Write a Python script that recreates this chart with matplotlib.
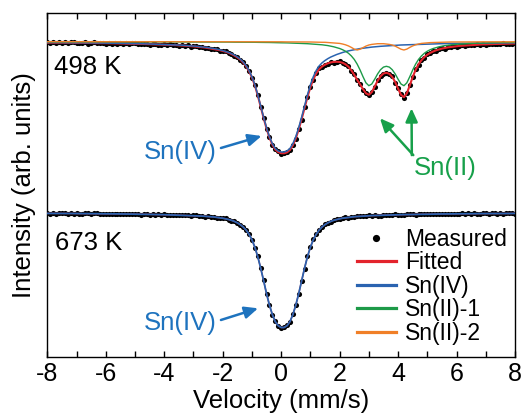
import numpy as np
import matplotlib
matplotlib.use("Agg")
import matplotlib.pyplot as plt
from matplotlib.ticker import MultipleLocator

plt.rcParams["font.family"] = ["Liberation Sans", "DejaVu Sans"]
plt.rcParams["axes.unicode_minus"] = False

# velocity channels (mm/s), -8 ... 8 in 0.1 steps
velocity = np.linspace(-8.0, 8.0, 161)

# ---- 498 K, relative transmission (%) ----
measured_498 = [
    99.95, 99.86, 99.92, 99.83, 99.96, 99.88, 99.93, 99.84, 99.92, 99.95,
    99.82, 99.89, 99.85, 99.92, 99.79, 99.89, 99.92, 99.82, 99.84, 99.89,
    99.80, 99.89, 99.80, 99.86, 99.76, 99.88, 99.80, 99.84, 99.75, 99.82,
    99.86, 99.72, 99.79, 99.74, 99.81, 99.67, 99.76, 99.79, 99.69, 99.70,
    99.75, 99.65, 99.73, 99.63, 99.68, 99.56, 99.68, 99.59, 99.62, 99.51,
    99.56, 99.57, 99.42, 99.45, 99.38, 99.41, 99.24, 99.29, 99.27, 99.11,
    99.05, 99.03, 98.84, 98.81, 98.57, 98.45, 98.14, 97.98, 97.53, 97.10,
    96.38, 95.66, 94.69, 93.43, 92.38, 91.28, 90.46, 89.62, 89.23, 89.02,
    88.81, 88.82, 88.97, 89.12, 89.69, 90.29, 91.24, 92.18, 93.42, 94.46,
    95.49, 96.18, 96.86, 97.32, 97.46, 97.71, 97.81, 97.98, 97.90, 98.01,
    98.03, 97.85, 97.72, 97.55, 97.09, 96.74, 96.15, 95.74, 95.19, 94.90,
    94.68, 95.00, 95.46, 96.12, 96.61, 96.76, 96.90, 96.76, 96.53, 95.90,
    95.33, 94.75, 94.41, 94.82, 95.67, 96.42, 97.23, 97.70, 98.17, 98.40,
    98.76, 98.87, 99.06, 99.09, 99.26, 99.38, 99.31, 99.44, 99.44, 99.56,
    99.47, 99.60, 99.66, 99.58, 99.63, 99.71, 99.63, 99.75, 99.67, 99.75,
    99.66, 99.81, 99.74, 99.81, 99.72, 99.81, 99.86, 99.74, 99.81, 99.78,
    99.87,
]
fitted_498 = [
    99.90, 99.90, 99.90, 99.90, 99.90, 99.89, 99.89, 99.89, 99.89, 99.88,
    99.88, 99.88, 99.88, 99.87, 99.87, 99.87, 99.86, 99.86, 99.86, 99.85,
    99.85, 99.84, 99.84, 99.84, 99.83, 99.82, 99.81, 99.80, 99.80, 99.79,
    99.79, 99.78, 99.78, 99.77, 99.76, 99.75, 99.74, 99.73, 99.73, 99.72,
    99.71, 99.70, 99.68, 99.67, 99.66, 99.63, 99.62, 99.60, 99.58, 99.56,
    99.53, 99.50, 99.48, 99.44, 99.41, 99.36, 99.32, 99.27, 99.21, 99.15,
    99.07, 98.99, 98.89, 98.76, 98.61, 98.43, 98.21, 97.92, 97.54, 97.06,
    96.43, 95.63, 94.62, 93.49, 92.37, 91.31, 90.41, 89.70, 89.21, 88.96,
    88.85, 88.84, 88.93, 89.17, 89.64, 90.33, 91.22, 92.25, 93.36, 94.47,
    95.45, 96.23, 96.83, 97.25, 97.52, 97.70, 97.84, 97.93, 97.98, 97.99,
    97.97, 97.89, 97.74, 97.51, 97.14, 96.69, 96.19, 95.72, 95.26, 94.84,
    94.69, 94.96, 95.51, 96.09, 96.54, 96.82, 96.89, 96.79, 96.48, 95.98,
    95.31, 94.69, 94.45, 94.84, 95.63, 96.47, 97.18, 97.74, 98.15, 98.47,
    98.70, 98.88, 99.02, 99.14, 99.23, 99.31, 99.37, 99.43, 99.47, 99.51,
    99.55, 99.58, 99.60, 99.62, 99.65, 99.67, 99.68, 99.70, 99.71, 99.73,
    99.73, 99.75, 99.75, 99.77, 99.77, 99.78, 99.79, 99.80, 99.80, 99.81,
    99.82,
]
sn4_498 = [
    99.92, 99.92, 99.91, 99.91, 99.91, 99.90, 99.90, 99.90, 99.90, 99.89,
    99.89, 99.89, 99.89, 99.88, 99.88, 99.88, 99.87, 99.87, 99.87, 99.86,
    99.86, 99.85, 99.85, 99.85, 99.84, 99.84, 99.83, 99.82, 99.82, 99.81,
    99.81, 99.80, 99.80, 99.79, 99.78, 99.77, 99.76, 99.75, 99.75, 99.74,
    99.73, 99.72, 99.70, 99.69, 99.68, 99.66, 99.65, 99.63, 99.61, 99.59,
    99.57, 99.54, 99.51, 99.48, 99.45, 99.41, 99.36, 99.31, 99.26, 99.19,
    99.12, 99.03, 98.93, 98.81, 98.67, 98.49, 98.27, 97.98, 97.61, 97.13,
    96.50, 95.70, 94.70, 93.57, 92.45, 91.40, 90.50, 89.80, 89.32, 89.07,
    88.97, 88.97, 89.07, 89.32, 89.80, 90.50, 91.40, 92.45, 93.57, 94.70,
    95.70, 96.50, 97.13, 97.58, 97.89, 98.12, 98.31, 98.47, 98.60, 98.72,
    98.82, 98.92, 99.00, 99.08, 99.14, 99.20, 99.26, 99.31, 99.35, 99.39,
    99.43, 99.46, 99.49, 99.51, 99.54, 99.56, 99.58, 99.60, 99.62, 99.64,
    99.65, 99.67, 99.68, 99.70, 99.71, 99.72, 99.73, 99.74, 99.75, 99.76,
    99.77, 99.78, 99.78, 99.79, 99.80, 99.80, 99.81, 99.82, 99.82, 99.83,
    99.83, 99.84, 99.84, 99.84, 99.85, 99.85, 99.86, 99.86, 99.86, 99.87,
    99.87, 99.87, 99.87, 99.88, 99.88, 99.88, 99.88, 99.89, 99.89, 99.89,
    99.89,
]
sn2_1_498 = [
    99.99, 99.99, 99.99, 99.99, 99.99, 99.99, 99.99, 99.99, 99.99, 99.99,
    99.99, 99.99, 99.99, 99.99, 99.99, 99.99, 99.99, 99.99, 99.99, 99.99,
    99.99, 99.99, 99.99, 99.99, 99.99, 99.98, 99.98, 99.98, 99.98, 99.98,
    99.98, 99.98, 99.98, 99.98, 99.98, 99.98, 99.98, 99.98, 99.98, 99.98,
    99.98, 99.98, 99.98, 99.98, 99.98, 99.97, 99.97, 99.97, 99.97, 99.97,
    99.97, 99.97, 99.97, 99.97, 99.97, 99.96, 99.96, 99.96, 99.96, 99.96,
    99.96, 99.96, 99.96, 99.95, 99.95, 99.95, 99.95, 99.95, 99.94, 99.94,
    99.94, 99.94, 99.93, 99.93, 99.93, 99.92, 99.92, 99.91, 99.90, 99.90,
    99.89, 99.89, 99.88, 99.87, 99.86, 99.85, 99.84, 99.83, 99.82, 99.80,
    99.78, 99.77, 99.74, 99.72, 99.69, 99.65, 99.61, 99.55, 99.49, 99.41,
    99.32, 99.20, 99.05, 98.85, 98.58, 98.23, 97.76, 97.17, 96.50, 95.89,
    95.60, 95.77, 96.25, 96.78, 97.20, 97.46, 97.54, 97.46, 97.20, 96.78,
    96.25, 95.77, 95.60, 95.89, 96.50, 97.17, 97.76, 98.23, 98.58, 98.85,
    99.05, 99.20, 99.32, 99.41, 99.49, 99.55, 99.61, 99.65, 99.69, 99.72,
    99.74, 99.77, 99.78, 99.80, 99.82, 99.83, 99.84, 99.85, 99.86, 99.87,
    99.88, 99.89, 99.89, 99.90, 99.91, 99.91, 99.92, 99.92, 99.92, 99.93,
    99.93,
]
sn2_2_498 = [
    100.00, 100.00, 100.00, 100.00, 100.00, 100.00, 100.00, 100.00, 100.00, 100.00,
    100.00, 100.00, 100.00, 100.00, 100.00, 100.00, 100.00, 100.00, 100.00, 100.00,
    100.00, 100.00, 100.00, 100.00, 100.00, 100.00, 100.00, 100.00, 100.00, 100.00,
    100.00, 100.00, 100.00, 100.00, 100.00, 100.00, 100.00, 100.00, 100.00, 100.00,
    100.00, 100.00, 100.00, 100.00, 100.00, 100.00, 100.00, 100.00, 100.00, 100.00,
    99.99, 99.99, 99.99, 99.99, 99.99, 99.99, 99.99, 99.99, 99.99, 99.99,
    99.99, 99.99, 99.99, 99.99, 99.99, 99.99, 99.99, 99.99, 99.99, 99.99,
    99.99, 99.99, 99.99, 99.99, 99.99, 99.99, 99.99, 99.99, 99.99, 99.99,
    99.99, 99.98, 99.98, 99.98, 99.98, 99.98, 99.98, 99.97, 99.97, 99.97,
    99.97, 99.96, 99.96, 99.95, 99.94, 99.94, 99.92, 99.91, 99.89, 99.86,
    99.83, 99.77, 99.69, 99.58, 99.43, 99.26, 99.17, 99.25, 99.41, 99.56,
    99.67, 99.73, 99.77, 99.80, 99.80, 99.80, 99.77, 99.73, 99.67, 99.56,
    99.41, 99.25, 99.17, 99.26, 99.43, 99.58, 99.69, 99.77, 99.83, 99.86,
    99.89, 99.91, 99.92, 99.94, 99.94, 99.95, 99.96, 99.96, 99.97, 99.97,
    99.97, 99.97, 99.98, 99.98, 99.98, 99.98, 99.98, 99.98, 99.99, 99.99,
    99.99, 99.99, 99.99, 99.99, 99.99, 99.99, 99.99, 99.99, 99.99, 99.99,
    99.99,
]

# ---- 673 K, relative transmission (%) ----
measured_673 = [
    99.96, 99.91, 99.94, 99.88, 99.94, 99.92, 99.95, 99.89, 99.94, 99.91,
    99.95, 99.89, 99.88, 99.92, 99.93, 99.86, 99.93, 99.93, 99.87, 99.90,
    99.85, 99.91, 99.88, 99.91, 99.85, 99.89, 99.86, 99.91, 99.84, 99.83,
    99.86, 99.87, 99.80, 99.87, 99.86, 99.81, 99.83, 99.78, 99.83, 99.81,
    99.83, 99.76, 99.81, 99.77, 99.81, 99.74, 99.72, 99.75, 99.75, 99.68,
    99.74, 99.73, 99.66, 99.67, 99.60, 99.64, 99.60, 99.60, 99.50, 99.51,
    99.44, 99.43, 99.30, 99.21, 99.14, 99.01, 98.77, 98.61, 98.30, 97.83,
    97.31, 96.51, 95.62, 94.45, 93.23, 91.87, 90.77, 89.79, 89.14, 88.68,
    88.49, 88.53, 88.72, 89.06, 89.83, 90.78, 91.88, 93.21, 94.41, 95.62,
    96.55, 97.33, 97.82, 98.29, 98.57, 98.85, 98.97, 99.10, 99.25, 99.34,
    99.35, 99.48, 99.52, 99.51, 99.58, 99.56, 99.64, 99.64, 99.69, 99.65,
    99.72, 99.70, 99.76, 99.71, 99.71, 99.76, 99.78, 99.73, 99.81, 99.82,
    99.77, 99.81, 99.77, 99.83, 99.82, 99.85, 99.80, 99.85, 99.83, 99.88,
    99.83, 99.82, 99.87, 99.88, 99.83, 99.90, 99.90, 99.86, 99.89, 99.84,
    99.91, 99.89, 99.92, 99.86, 99.92, 99.89, 99.94, 99.89, 99.88, 99.92,
    99.93, 99.87, 99.95, 99.95, 99.90, 99.93, 99.88, 99.94, 99.92, 99.96,
    99.90,
]
# single Sn(IV) site: the fit and the Sn(IV) component coincide
fitted_673 = [
    99.93, 99.93, 99.93, 99.92, 99.92, 99.92, 99.92, 99.92, 99.92, 99.92,
    99.91, 99.91, 99.91, 99.91, 99.91, 99.90, 99.90, 99.90, 99.89, 99.89,
    99.89, 99.89, 99.88, 99.88, 99.88, 99.87, 99.87, 99.87, 99.86, 99.86,
    99.85, 99.85, 99.84, 99.84, 99.83, 99.83, 99.82, 99.82, 99.81, 99.81,
    99.80, 99.79, 99.79, 99.78, 99.77, 99.76, 99.75, 99.74, 99.73, 99.72,
    99.71, 99.70, 99.68, 99.66, 99.64, 99.62, 99.60, 99.57, 99.53, 99.49,
    99.45, 99.39, 99.32, 99.24, 99.13, 98.99, 98.81, 98.58, 98.27, 97.85,
    97.30, 96.55, 95.60, 94.45, 93.20, 91.90, 90.75, 89.80, 89.10, 88.70,
    88.52, 88.52, 88.70, 89.10, 89.80, 90.75, 91.90, 93.20, 94.45, 95.60,
    96.55, 97.30, 97.85, 98.27, 98.58, 98.81, 98.99, 99.13, 99.24, 99.32,
    99.39, 99.45, 99.49, 99.53, 99.57, 99.60, 99.62, 99.64, 99.66, 99.68,
    99.70, 99.71, 99.72, 99.73, 99.74, 99.75, 99.76, 99.77, 99.78, 99.79,
    99.79, 99.80, 99.81, 99.81, 99.82, 99.82, 99.83, 99.83, 99.84, 99.84,
    99.85, 99.85, 99.86, 99.86, 99.87, 99.87, 99.87, 99.88, 99.88, 99.88,
    99.89, 99.89, 99.89, 99.89, 99.90, 99.90, 99.90, 99.91, 99.91, 99.91,
    99.91, 99.91, 99.92, 99.92, 99.92, 99.92, 99.92, 99.92, 99.92, 99.93,
    99.93,
]

# stacking shift of the 673 K spectrum (%)
offset_673 = 17.1

RED = "#e3232c"
BLUE = "#2a63b0"
GREEN = "#1d9a48"
ORANGE = "#f07f27"
TXT_BLUE = "#1e73be"
TXT_GREEN = "#17a04a"


def main():
    fig, ax = plt.subplots(figsize=(5.21, 4.15), dpi=100)
    fig.subplots_adjust(left=0.0908, right=0.9885, bottom=0.1405, top=0.9694)

    # upper spectrum
    ax.plot(velocity, measured_498, "o", color="black", ms=3.7, mec="none",
            label="Measured", zorder=2)
    ax.plot(velocity, fitted_498, color=RED, lw=1.5, label="Fitted", zorder=3)
    ax.plot(velocity, sn4_498, color=BLUE, lw=1.1, label="Sn(IV)", zorder=4)
    ax.plot(velocity, sn2_1_498, color=GREEN, lw=1.0, label="Sn(II)-1", zorder=5)
    ax.plot(velocity, sn2_2_498, color=ORANGE, lw=1.0, label="Sn(II)-2", zorder=6)

    # lower spectrum, shifted down
    low_meas = np.array(measured_673) - offset_673
    low_fit = np.array(fitted_673) - offset_673
    ax.plot(velocity, low_meas, "o", color="black", ms=3.7, mec="none", zorder=2)
    ax.plot(velocity, low_fit, color=RED, lw=1.0, zorder=3)
    ax.plot(velocity, low_fit, color=BLUE, lw=1.3, zorder=4)

    ax.set_xlim(-8, 8)
    ax.set_ylim(68.5, 102.9)
    ax.xaxis.set_major_locator(MultipleLocator(2))
    ax.xaxis.set_minor_locator(MultipleLocator(1))
    ax.tick_params(axis="x", which="both", direction="in", top=True,
                   length=4, width=1.0, labelsize=18, pad=4)
    ax.set_yticks([])
    for sp in ax.spines.values():
        sp.set_linewidth(1.0)

    ax.set_xlabel("Velocity (mm/s)", fontsize=18.5, labelpad=2)
    ax.set_ylabel("Intensity (arb. units)", fontsize=18.5, labelpad=8)

    ax.text(-7.77, 97.47, "498 K", fontsize=18.5, ha="left", va="center")
    ax.text(-7.75, 79.87, "673 K", fontsize=18.5, ha="left", va="center")

    arrow = dict(arrowstyle="-|>,head_length=0.4,head_width=0.18",
                 lw=1.8, shrinkA=0, shrinkB=0, mutation_scale=20)

    ax.text(-3.45, 88.97, "Sn(IV)", color=TXT_BLUE, fontsize=18.5,
            ha="center", va="center")
    ax.annotate("", xy=(-0.67, 90.57), xytext=(-2.06, 89.37),
                arrowprops=dict(arrow, color=TXT_BLUE))
    ax.text(-3.45, 71.87, "Sn(IV)", color=TXT_BLUE, fontsize=18.5,
            ha="center", va="center")
    ax.annotate("", xy=(-0.79, 73.34), xytext=(-2.06, 72.17),
                arrowprops=dict(arrow, color=TXT_BLUE))

    ax.text(5.61, 87.37, "Sn(II)", color=TXT_GREEN, fontsize=18.5,
            ha="center", va="center")
    ax.annotate("", xy=(3.38, 92.34), xytext=(4.52, 88.66),
                arrowprops=dict(arrow, color=TXT_GREEN))
    ax.annotate("", xy=(4.46, 93.34), xytext=(4.47, 88.66),
                arrowprops=dict(arrow, color=TXT_GREEN))

    leg = ax.legend(loc="upper left", bbox_to_anchor=(0.662, 0.375),
                    frameon=False, fontsize=16.5, handlelength=1.7,
                    handletextpad=0.4, labelspacing=0.02, borderpad=0,
                    borderaxespad=0, markerscale=1.4)
    for line in leg.get_lines():
        line.set_linewidth(2.3)

    fig.savefig("out.png", dpi=100)


if __name__ == "__main__":
    main()
